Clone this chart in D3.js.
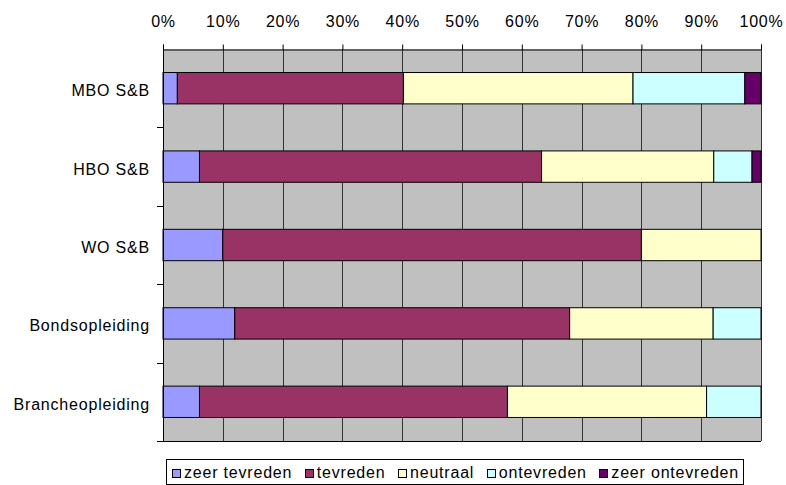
<!DOCTYPE html>
<html><head><meta charset="utf-8">
<script src="https://cdn.jsdelivr.net/npm/d3@7"></script>
<style>body{margin:0;background:#fff;} text{font-family:Arial,"Liberation Sans",sans-serif;letter-spacing:0.8px;}</style>
</head><body>
<svg id="c" width="786" height="485"></svg>
<script>
const categories = ["MBO S&B","HBO S&B","WO S&B","Bondsopleiding","Brancheopleiding"];
const seriesNames = ["zeer tevreden","tevreden","neutraal","ontevreden","zeer ontevreden"];
const zeerTevreden   = [2.4, 6.1, 10, 12, 6.1];
const tevreden       = [37.8, 57.2, 70, 56, 51.5];
const neutraal       = [38.4, 28.8, 20, 24, 33.3];
const ontevreden     = [18.7, 6.4, 0, 8, 9.1];
const zeerOntevreden = [2.7, 1.5, 0, 0, 0];
const tickValues = [0,10,20,30,40,50,60,70,80,90,100];
const colors = ["#9999FF","#993366","#FFFFCC","#CCFFFF","#660066"];

const svg = d3.select("#c");
const L=163, R=761, T=49, B=441;
const FS = "16px";
const x = d3.scaleLinear().domain([0,100]).range([L,R]);
const y = d3.scaleBand().domain(categories).range([T,B]).paddingInner(0.6).paddingOuter(0.3);
const yb = d3.scaleBand().domain(categories).range([T,B]);

svg.append("rect").attr("x",L).attr("y",T).attr("width",R-L).attr("height",B-T).attr("fill","#C0C0C0");
// gridlines
svg.append("g").selectAll("line").data(tickValues.slice(1)).join("line")
  .attr("x1",d=>Math.round(x(d))+0.5).attr("x2",d=>Math.round(x(d))+0.5)
  .attr("y1",T).attr("y2",B).attr("stroke","#333").attr("stroke-width",1);

const table = categories.map((c,i)=>({cat:c, vals:[zeerTevreden[i],tevreden[i],neutraal[i],ontevreden[i],zeerOntevreden[i]]}));
const stacked = [];
table.forEach(r=>{let acc=0; r.vals.forEach((v,j)=>{ if(v>0) stacked.push({cat:r.cat,j,x0:acc,x1:acc+v}); acc+=v;});});
svg.append("g").selectAll("rect").data(stacked).join("rect")
  .attr("x",d=>x(d.x0)).attr("width",d=>Math.min(x(d.x1),R)-x(d.x0))
  .attr("y",d=>y(d.cat)).attr("height",y.bandwidth())
  .attr("fill",d=>colors[d.j]).attr("stroke","#000").attr("stroke-width",1);

// top axis
const ax = d3.axisTop(x).tickValues(tickValues).tickFormat(d=>d+"%").tickSize(5).tickPadding(18);
const gx = svg.append("g").attr("transform",`translate(0,${T+0.5})`).call(ax);
gx.select(".domain").attr("stroke","#000");
gx.selectAll(".tick line").attr("stroke","#000");
gx.selectAll("text").attr("font-size",FS).attr("fill","#000").attr("font-family","Arial, Liberation Sans, sans-serif");

// left axis
svg.append("line").attr("x1",L+0.5).attr("x2",L+0.5).attr("y1",T).attr("y2",B).attr("stroke","#000");
svg.append("line").attr("x1",L).attr("x2",R).attr("y1",B+0.5).attr("y2",B+0.5).attr("stroke","#000");
const bounds = categories.map(c=>yb(c)).concat([B]);
svg.append("g").selectAll("line").data(bounds.slice(1)).join("line")
  .attr("x1",L-6).attr("x2",L).attr("y1",d=>Math.round(d)+0.5).attr("y2",d=>Math.round(d)+0.5).attr("stroke","#000");
svg.append("g").selectAll("text").data(categories).join("text")
  .attr("x",150).attr("y",d=>y(d)+y.bandwidth()/2).attr("dy","0.5em")
  .attr("text-anchor","end").attr("font-size",FS).text(d=>d);

// legend
const lg = svg.append("g");
lg.append("rect").attr("x",166.5).attr("y",459.5).attr("width",577).attr("height",25).attr("fill","#fff").attr("stroke","#000");
const items = seriesNames.map((n,i)=>{
  const sq = lg.append("rect").attr("y",469.5).attr("width",8).attr("height",8).attr("fill",colors[i]).attr("stroke","#000");
  const t = lg.append("text").attr("y",478).attr("font-size",FS).text(n);
  return {sq,t,w:t.node().getComputedTextLength()};
});
const startX = 172, endX = 739, off = 12;
const total = d3.sum(items, d=>off+d.w);
const gap = (endX - startX - total) / (items.length-1);
let cx = startX;
items.forEach(d=>{
  d.sq.attr("x",Math.round(cx)+0.5);
  d.t.attr("x",cx+off);
  cx += off + d.w + gap;
});
</script>
</body></html>
